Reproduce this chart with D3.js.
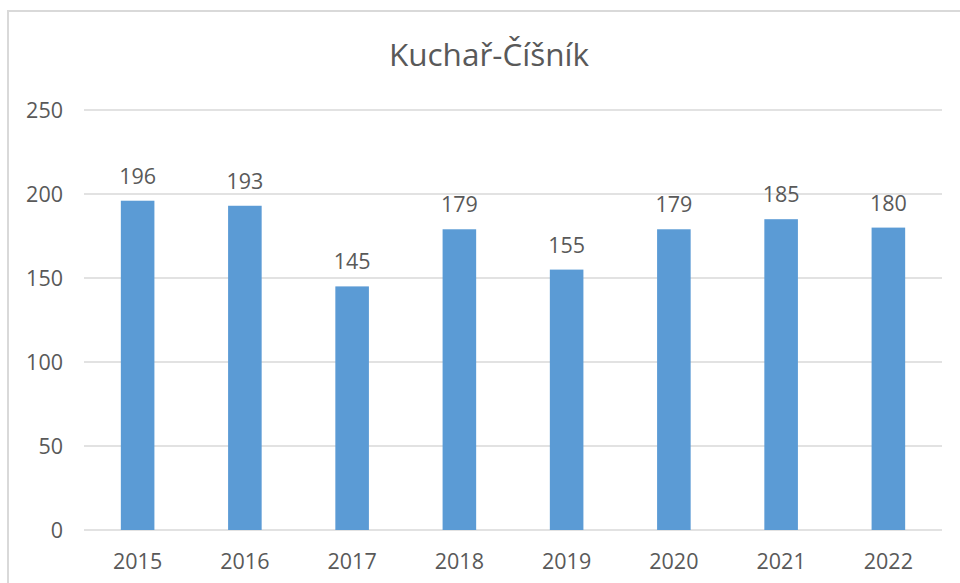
<!DOCTYPE html>
<html>
<head>
<meta charset="utf-8">
<script src="https://cdn.jsdelivr.net/npm/d3@7"></script>
<style>
  body { margin: 0; background: #fff; }
  svg text { font-family: "Open Sans", sans-serif; fill: #595959; }
</style>
</head>
<body>
<div id="chart"></div>
<script>
const title = "Kuchař-Číšník";
const years = ["2015", "2016", "2017", "2018", "2019", "2020", "2021", "2022"];
const counts = [196, 193, 145, 179, 155, 179, 185, 180];
const yTicks = [0, 50, 100, 150, 200, 250];

const width = 960, height = 583;
const margin = { left: 84, right: 18, top: 110, bottom: 53 };

const svg = d3.select("#chart").append("svg")
    .attr("width", width)
    .attr("height", height);

// chart area border (cut off at right and bottom)
svg.append("rect")
    .attr("x", 8).attr("y", 11)
    .attr("width", 980).attr("height", 600)
    .attr("fill", "none")
    .attr("stroke", "#d9d9d9")
    .attr("stroke-width", 2);

const x = d3.scaleBand()
    .domain(years)
    .range([margin.left, width - margin.right]);

const y = d3.scaleLinear()
    .domain([0, 250])
    .range([height - margin.bottom, margin.top]);

const barW = x.bandwidth() * 0.313;

// gridlines
svg.append("g")
    .selectAll("line")
    .data(yTicks)
    .join("line")
    .attr("x1", margin.left)
    .attr("x2", width - margin.right)
    .attr("y1", d => y(d))
    .attr("y2", d => y(d))
    .attr("stroke", "#d9d9d9")
    .attr("stroke-width", 1.5);

// y labels
svg.append("g")
    .selectAll("text")
    .data(yTicks)
    .join("text")
    .attr("x", 63)
    .attr("y", d => y(d))
    .attr("dy", "0.35em")
    .attr("text-anchor", "end")
    .style("font-size", "21.5px")
    .text(d => d);

// bars
svg.append("g")
    .selectAll("rect")
    .data(counts)
    .join("rect")
    .attr("x", (d, i) => x(years[i]) + x.bandwidth() / 2 - barW / 2)
    .attr("y", d => y(d))
    .attr("width", barW)
    .attr("height", d => y(0) - y(d))
    .attr("fill", "#5b9bd5");

// value labels
svg.append("g")
    .selectAll("text")
    .data(counts)
    .join("text")
    .attr("x", (d, i) => x(years[i]) + x.bandwidth() / 2)
    .attr("y", d => y(d) - 17)
    .attr("text-anchor", "middle")
    .style("font-size", "21.5px")
    .text(d => d);

// x labels
svg.append("g")
    .selectAll("text")
    .data(years)
    .join("text")
    .attr("x", d => x(d) + x.bandwidth() / 2)
    .attr("y", 569)
    .attr("text-anchor", "middle")
    .style("font-size", "21.5px")
    .text(d => d);

// title
svg.append("text")
    .attr("x", 489)
    .attr("y", 66)
    .attr("text-anchor", "middle")
    .style("font-size", "31.5px")
    .text(title);
</script>
</body>
</html>
